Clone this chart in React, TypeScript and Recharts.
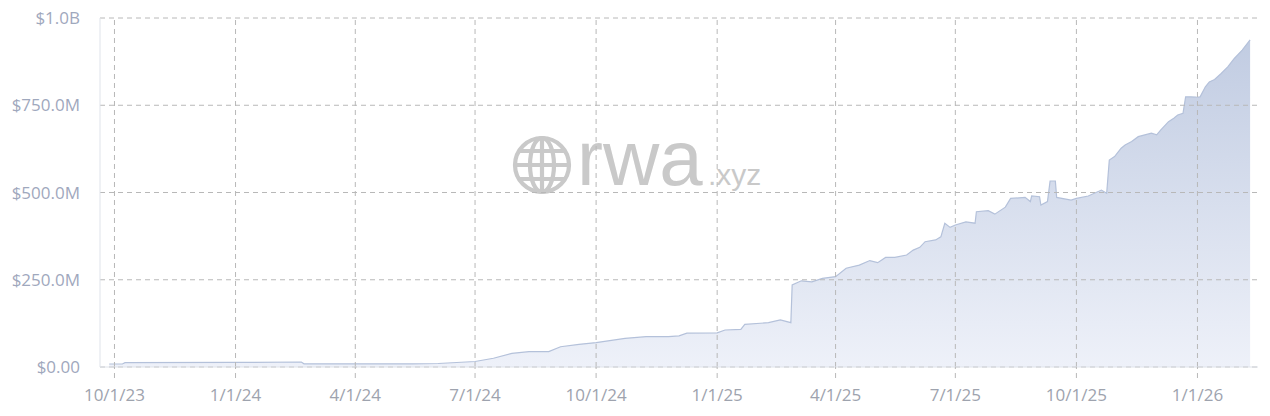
import React from "react";
import { AreaChart, Area, XAxis, YAxis, ReferenceLine } from "recharts";

const dates: string[] = [
  "2023-09-27","2023-10-07","2023-10-09","2024-01-01","2024-02-20","2024-02-22","2024-04-01","2024-05-14",
  "2024-06-03","2024-07-01","2024-07-15","2024-07-29","2024-08-11","2024-08-26","2024-09-04","2024-09-18",
  "2024-10-01","2024-10-23","2024-11-08","2024-11-25","2024-12-03","2024-12-09","2025-01-01","2025-01-07",
  "2025-01-19","2025-01-22","2025-02-09","2025-02-18","2025-02-26","2025-02-27","2025-03-06","2025-03-14",
  "2025-03-22","2025-04-01","2025-04-09","2025-04-19","2025-04-27","2025-05-03","2025-05-09","2025-05-16",
  "2025-05-25","2025-05-30","2025-06-04","2025-06-08","2025-06-16","2025-06-20","2025-06-23","2025-06-27",
  "2025-07-01","2025-07-09","2025-07-16","2025-07-17","2025-07-26","2025-07-31","2025-08-08","2025-08-12",
  "2025-08-23","2025-08-27","2025-08-28","2025-09-03","2025-09-04","2025-09-09","2025-09-11","2025-09-15",
  "2025-09-16","2025-09-27","2025-10-01","2025-10-10","2025-10-20","2025-10-24","2025-10-26","2025-10-30",
  "2025-11-04","2025-11-07","2025-11-12","2025-11-17","2025-11-22","2025-11-27","2025-12-01","2025-12-04",
  "2025-12-10","2025-12-14","2025-12-17","2025-12-21","2025-12-23","2025-12-27","2025-12-31","2026-01-03",
  "2026-01-07","2026-01-10","2026-01-14","2026-01-19","2026-01-24","2026-01-29","2026-02-04","2026-02-10",
];

// total value in millions of USD
const values: number[] = [
  8.6, 8.6, 12.3, 13, 14.3, 9, 9, 9,
  10, 15.8, 25, 39, 44, 44, 58, 65,
  70, 82, 87, 87, 89, 97, 98, 106,
  108, 122, 127, 135, 127, 235, 247, 244,
  254, 259, 283, 292, 305, 299, 314, 314,
  321, 335, 343, 359, 364, 373, 412, 400,
  407, 416, 412, 445, 448, 438, 458, 483,
  486, 474, 490, 488, 464, 474, 533, 533,
  486, 478, 483, 490, 507, 498, 593, 603,
  627, 636, 646, 660, 665, 670, 665, 679,
  703, 713, 722, 727, 774, 774, 773, 774,
  803, 817, 824, 841, 860, 884, 908, 937,
];

const xTickDates: string[] = [
  "2023-10-01","2024-01-01","2024-04-01","2024-07-01","2024-10-01",
  "2025-01-01","2025-04-01","2025-07-01","2025-10-01","2026-01-01",
];
const yTicks: number[] = [0, 250, 500, 750, 1000];
const xDomain: string[] = ["2023-09-20", "2026-02-16"];

const ts = (d: string) => Date.parse(d + "T00:00:00Z");
const data = dates.map((d, i) => ({ t: ts(d), v: values[i] }));
const xTicks = xTickDates.map(ts);
const dom = xDomain.map(ts);

const fmtX = (t: number) => {
  const d = new Date(t);
  return `${d.getUTCMonth() + 1}/${d.getUTCDate()}/${String(d.getUTCFullYear()).slice(2)}`;
};
const fmtY = (v: number) => {
  if (v === 0) return "$0.00";
  if (v >= 1000) return `$${(v / 1000).toFixed(1)}B`;
  return `$${v.toFixed(1)}M`;
};

const FONT = "'Open Sans', 'Noto Sans', sans-serif";
const GRID = "#b8b8b8";

function Watermark() {
  const cx = 534, cy = 165, r = 27;
  const c = "#c9c9c9";
  const chord = (dy: number) => Math.sqrt(r * r - dy * dy);
  return (
    <svg width={1262} height={408} style={{ position: "absolute", left: 0, top: 0 }}>
      <g stroke={c} strokeWidth={4.2} fill="none">
        <circle cx={cx} cy={cy} r={r} />
        <ellipse cx={cx} cy={cy} rx={12} ry={r} />
        <line x1={cx} y1={cy - r} x2={cx} y2={cy + r} />
        <line x1={cx - r} y1={cy} x2={cx + r} y2={cy} />
        <line x1={cx - chord(14)} y1={cy - 14} x2={cx + chord(14)} y2={cy - 14} />
        <line x1={cx - chord(14)} y1={cy + 14} x2={cx + chord(14)} y2={cy + 14} />
      </g>
      <text x={569} y={185} fill={c} fontFamily="'Liberation Sans', Arial, sans-serif" fontSize={78}>rwa</text>
      <text x={700} y={185} fill={c} fontFamily="'Liberation Sans', Arial, sans-serif" fontSize={30}>.xyz</text>
    </svg>
  );
}

export default function App() {
  return (
    <div style={{ position: "relative", width: 1262, height: 408, marginTop: -8 }}>
      <Watermark />
      <div style={{ position: "absolute", left: 0, top: 0 }}>
        <AreaChart width={1262} height={408} data={data} margin={{ top: 18, right: 12, bottom: 11, left: 0 }}>
          <defs>
            <linearGradient id="fillGrad" x1="0" y1="0" x2="0" y2="1">
              <stop offset="0%" stopColor="#c1cce2" stopOpacity={1} />
              <stop offset="100%" stopColor="#eef1f9" stopOpacity={1} />
            </linearGradient>
          </defs>
          <XAxis
            dataKey="t"
            type="number"
            scale="time"
            domain={dom}
            ticks={xTicks}
            interval={0}
            tickFormatter={fmtX}
            height={30}
            tickSize={11}
            tickMargin={11}
            axisLine={{ stroke: "#dfe3ea" }}
            tickLine={{ stroke: GRID, strokeDasharray: "5 4" }}
            tick={{ fill: "#9ea3ae", fontSize: 17, fontFamily: FONT }}
            allowDataOverflow
          />
          <YAxis
            domain={[0, 1000]}
            ticks={yTicks}
            tickFormatter={fmtY}
            width={92}
            tickLine={false}
            tickMargin={14}
            axisLine={{ stroke: "#dfe3ea" }}
            tick={{ fill: "#9fa8bd", fontSize: 17, fontFamily: FONT }}
          />
          <Area
            type="linear"
            dataKey="v"
            stroke="#b4c1da"
            strokeWidth={1.2}
            fill="url(#fillGrad)"
            fillOpacity={1}
            isAnimationActive={false}
            dot={false}
            activeDot={false}
          />
          {yTicks.map((v) => (
            <ReferenceLine key={"h" + v} y={v} stroke={GRID} strokeDasharray="5 4" />
          ))}
          {xTicks.map((t) => (
            <ReferenceLine key={"v" + t} x={t} stroke={GRID} strokeDasharray="5 4" />
          ))}
        </AreaChart>
      </div>
    </div>
  );
}
